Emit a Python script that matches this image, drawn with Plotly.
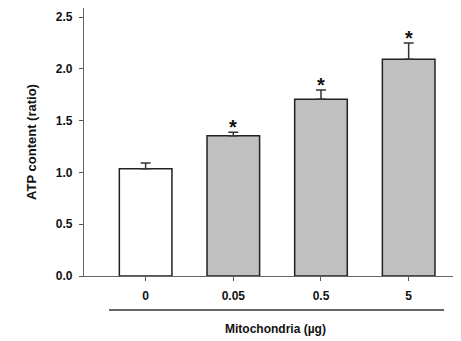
import plotly.graph_objects as go

categories = ["0", "0.05", "0.5", "5"]
values = [1.036, 1.354, 1.705, 2.092]
errors = [0.054, 0.033, 0.09, 0.157]
bar_colors = ["#ffffff", "#c0c0c0", "#c0c0c0", "#c0c0c0"]
stars = ["", "*", "*", "*"]
y_ticks = [0.0, 0.5, 1.0, 1.5, 2.0, 2.5]
y_tick_labels = ["0.0", "0.5", "1.0", "1.5", "2.0", "2.5"]

FONT = "Arial, Liberation Sans, sans-serif"

fig = go.Figure()
fig.add_trace(go.Bar(
    x=list(range(len(categories))), y=values,
    width=0.6,
    marker=dict(color=bar_colors, line=dict(color="#222222", width=1.5)),
    error_y=dict(type="data", array=errors, arrayminus=[0]*len(errors),
                 symmetric=False, color="#333333", thickness=1.5, width=5),
    showlegend=False, hoverinfo="skip",
))
for i, (v, e, s) in enumerate(zip(values, errors, stars)):
    if s:
        fig.add_annotation(x=i, y=v + e, text=f"<b>{s}</b>", showarrow=False,
                           xanchor="center", yanchor="bottom", yshift=-8,
                           font=dict(family=FONT, size=20, color="#111111"))

fig.update_layout(
    width=453, height=333,
    margin=dict(l=76, r=0, t=0, b=65),
    paper_bgcolor="white", plot_bgcolor="white",
    font=dict(family=FONT, size=12, color="#111111"),
)
fig.update_xaxes(
    range=[-0.703, 3.597],
    tickmode="array", tickvals=list(range(len(categories))),
    ticktext=[f"<b>{c}</b>" for c in categories],
    ticks="outside", ticklen=4, tickwidth=1, tickcolor="#555555",
    ticklabelstandoff=4,
    showline=True, linecolor="#666666", linewidth=1.2, mirror=True,
    showgrid=False, zeroline=False,
    tickfont=dict(size=12, family=FONT, color="#111111"),
)
fig.update_yaxes(
    range=[0, 2.587],
    tickmode="array", tickvals=y_ticks,
    ticktext=[f"<b>{t}</b>" for t in y_tick_labels],
    ticks="outside", ticklen=4, tickwidth=1, tickcolor="#555555",
    ticklabelstandoff=4,
    showline=True, linecolor="#666666", linewidth=1.2,
    showgrid=False, zeroline=False,
    tickfont=dict(size=12, family=FONT, color="#111111"),
    title=dict(text="<b>ATP content (ratio)</b>", font=dict(size=13, family=FONT, color="#111111"), standoff=16),
)
fig.add_shape(type="line", xref="paper", yref="paper",
              x0=0.0663, x1=0.955, y0=-0.127, y1=-0.127,
              line=dict(color="#333333", width=1.5))
fig.add_annotation(text="<b>Mitochondria (µg)</b>", xref="paper", yref="paper",
                   x=0.509, y=-0.198, xanchor="center", yanchor="middle",
                   showarrow=False, font=dict(size=12, family=FONT, color="#111111"))

fig.write_html("out.html")
